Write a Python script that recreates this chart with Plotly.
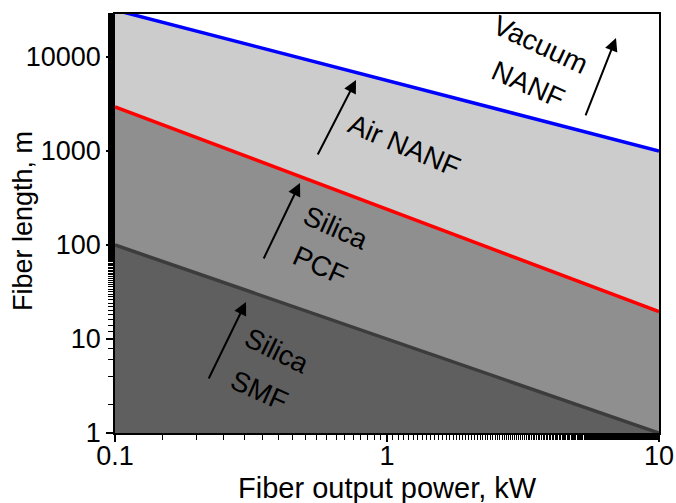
import plotly.graph_objects as go

# Data
power_kw = [0.1, 10]
smf_len = [100, 1]
pcf_len = [2950, 19.5]
vac_len = [31600, 1000]
base_len = [1, 1]

x_ticks = [0.1, 1, 10]
x_tick_text = ["0.1", "1", "10"]
y_ticks = [1, 10, 100, 1000, 10000]
y_tick_text = ["1", "10", "100", "1000", "10000"]

FONT = "Liberation Sans, Arial, sans-serif"

fig = go.Figure()
fig.add_trace(go.Scatter(x=power_kw, y=base_len, mode="lines", line=dict(width=0), showlegend=False))
fig.add_trace(go.Scatter(x=power_kw, y=smf_len, mode="lines", line=dict(color="#3c3c3c", width=3.5),
                         fill="tonexty", fillcolor="#5f5f5f", showlegend=False))
fig.add_trace(go.Scatter(x=power_kw, y=pcf_len, mode="lines", line=dict(color="#ff0000", width=3.5),
                         fill="tonexty", fillcolor="#8f8f8f", showlegend=False))
fig.add_trace(go.Scatter(x=power_kw, y=vac_len, mode="lines", line=dict(color="#0000ff", width=3.5),
                         fill="tonexty", fillcolor="#cccccc", showlegend=False))

# plot-area geometry for converting pixel-estimated positions
L, R, T, B = 115, 659, 14, 433
def lx(px):
    return (px - L) / (R - L) * 2 - 1
def ly(py):
    return (B - py) / 94.0

arrows = [((585, 117), (616, 38)), ((317, 156), (356, 80)), ((263, 260), (300, 183)), ((208, 380), (246, 302))]
for (tx, ty), (hx, hy) in arrows:
    fig.add_annotation(x=lx(hx), y=ly(hy), ax=lx(tx), ay=ly(ty), xref="x", yref="y", axref="x", ayref="y",
                       text="", showarrow=True, arrowhead=2, arrowsize=1.3, arrowwidth=2, arrowcolor="black")

labels = [("Vacuum", 540, 45, 25), ("NANF", 528, 85, 24), ("Air NANF", 404, 146, 23),
          ("Silica", 335, 228, 24), ("PCF", 320, 266, 24), ("Silica", 276, 351, 26), ("SMF", 259, 390, 24)]
for t, px, py, ang in labels:
    fig.add_annotation(x=lx(px), y=ly(py), xref="x", yref="y", text=t, showarrow=False, textangle=ang,
                       font=dict(family=FONT, size=28, color="black"))

# axis titles
fig.add_annotation(x=0.5, y=0, xref="paper", yref="paper", yanchor="middle", yshift=-55,
                   text="Fiber output power, kW", showarrow=False,
                   font=dict(family=FONT, size=29, color="black"))
fig.add_annotation(x=0, y=0.506, xref="paper", yref="paper", xanchor="center", xshift=-92,
                   text="Fiber length, m", showarrow=False, textangle=-90,
                   font=dict(family=FONT, size=27, color="black"))

common = dict(ticks="outside", ticklen=7, tickwidth=1.5, tickcolor="black",
              minor=dict(ticks="outside", ticklen=5, tickwidth=1.2, tickcolor="black"),
              showline=True, linecolor="black", linewidth=1.5, mirror=True, showgrid=False, zeroline=False,
              automargin=False, tickfont=dict(family=FONT, size=27, color="black"))
fig.update_xaxes(type="log", range=[-1, 1], tickvals=x_ticks, ticktext=x_tick_text,
                 ticklabelstandoff=-9, **common)
fig.update_yaxes(type="log", range=[0, 4.457], tickvals=y_ticks, ticktext=y_tick_text, **common)

fig.update_layout(width=676, height=503, margin=dict(l=115, r=17, t=14, b=70),
                  plot_bgcolor="white", paper_bgcolor="white", showlegend=False)
fig.write_html("out.html", config={"displayModeBar": False},
               post_script="document.body.style.margin='0';document.body.style.overflow='hidden';")
